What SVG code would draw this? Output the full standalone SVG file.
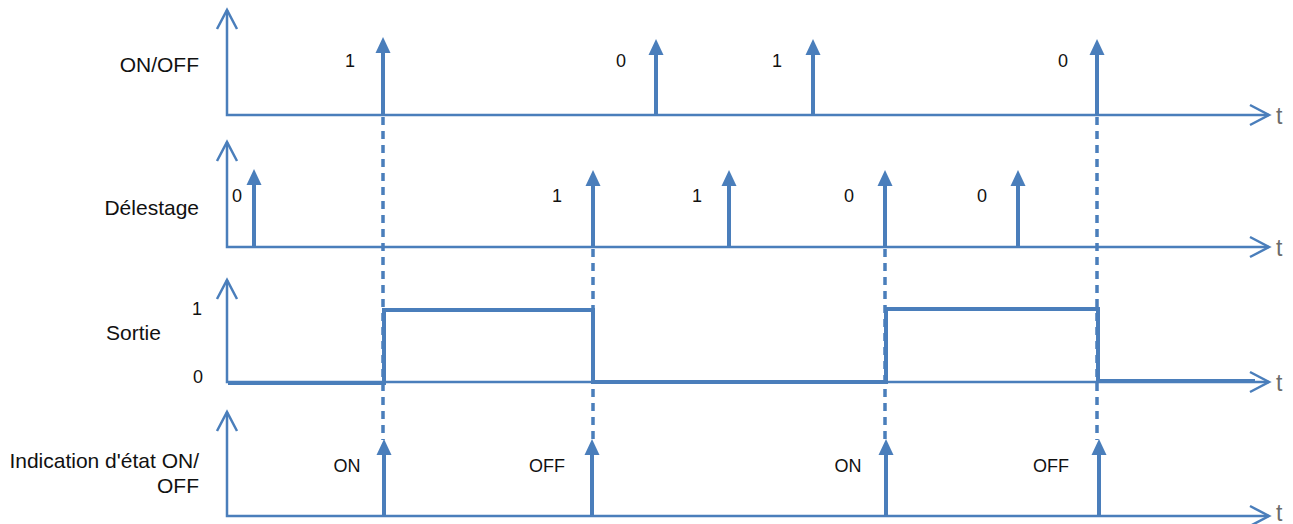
<svg xmlns="http://www.w3.org/2000/svg" width="1293" height="524" viewBox="0 0 1293 524">
<style>
.axis{fill:none;stroke:#4a7ebb;stroke-width:2.5;marker-start:url(#open);marker-end:url(#open)}
.imp{stroke:#4a7ebb;stroke-width:4;marker-end:url(#solid)}
.dash{stroke:#4a7ebb;stroke-width:3.5;stroke-dasharray:8 6}
.sig{fill:none;stroke:#4a7ebb;stroke-width:4}
.lbl{font-family:"Liberation Sans",Arial,sans-serif;font-size:21px;fill:#111}
.val{font-family:"Liberation Sans",Arial,sans-serif;font-size:18px;fill:#111;text-anchor:middle}
.t{font-family:"Liberation Sans",Arial,sans-serif;font-size:23px;fill:#6b6b6b}
</style>
<defs>
<marker id="open" markerUnits="userSpaceOnUse" markerWidth="24" markerHeight="26" refX="20" refY="12" orient="auto-start-reverse" viewBox="0 0 24 26">
<path d="M1,2 L20,12 L1,22" fill="none" stroke="#4a7ebb" stroke-width="2.5"/>
</marker>
<marker id="solid" markerUnits="userSpaceOnUse" markerWidth="17" markerHeight="16" refX="2" refY="8" orient="auto" viewBox="0 0 17 16">
<path d="M0,0.5 L16,8 L0,15.5 Z" fill="#4a7ebb"/>
</marker>
</defs>
<g id="labels">
<text class="lbl" x="199" y="72" text-anchor="end">ON/OFF</text>
<text class="lbl" x="199" y="215" text-anchor="end">Délestage</text>
<text class="lbl" x="106" y="340">Sortie</text>
<text class="lbl" x="199" y="468" text-anchor="end">Indication d'état ON/</text>
<text class="lbl" x="199" y="493" text-anchor="end">OFF</text>
</g>
<g id="connectors">
<line class="dash" x1="383" y1="117" x2="383" y2="440"/>
<line class="dash" x1="593" y1="249" x2="593" y2="440"/>
<line class="dash" x1="885" y1="249" x2="885" y2="440"/>
<line class="dash" x1="1097" y1="117" x2="1097" y2="440"/>
</g>
<g id="panel-onoff">
<path class="axis" d="M227,10 L227,115 L1269,115"/>
<text class="t" x="1276" y="124">t</text>
<line class="imp" x1="383" y1="115" x2="383" y2="51"/>
<line class="imp" x1="656" y1="115" x2="656" y2="53"/>
<line class="imp" x1="813" y1="115" x2="813" y2="53"/>
<line class="imp" x1="1097" y1="115" x2="1097" y2="53"/>
<text class="val" x="350" y="67">1</text>
<text class="val" x="621" y="67">0</text>
<text class="val" x="777" y="67">1</text>
<text class="val" x="1063" y="67">0</text>
</g>
<g id="panel-delestage">
<path class="axis" d="M227,142 L227,247 L1269,247"/>
<text class="t" x="1276" y="256">t</text>
<line class="imp" x1="254" y1="247" x2="254" y2="183"/>
<line class="imp" x1="593" y1="247" x2="593" y2="184"/>
<line class="imp" x1="729" y1="247" x2="729" y2="184"/>
<line class="imp" x1="885" y1="247" x2="885" y2="184"/>
<line class="imp" x1="1018" y1="247" x2="1018" y2="184"/>
<text class="val" x="237" y="202">0</text>
<text class="val" x="557" y="202">1</text>
<text class="val" x="697" y="202">1</text>
<text class="val" x="849" y="202">0</text>
<text class="val" x="982" y="202">0</text>
</g>
<g id="panel-sortie">
<path class="axis" d="M227,280 L227,382 L1269,382"/>
<text class="t" x="1276" y="391">t</text>
<text class="val" x="197" y="315">1</text>
<text class="val" x="198" y="383">0</text>
<path class="sig" d="M228,383 L384,383 L384,310 L593,310 L593,382 L886,382 L886,309 L1098,309 L1098,381 L1255,381"/>
</g>
<g id="panel-indication">
<path class="axis" d="M227,412 L227,516 L1269,516"/>
<text class="t" x="1276" y="521">t</text>
<line class="imp" x1="384" y1="516" x2="384" y2="453"/>
<line class="imp" x1="592" y1="516" x2="592" y2="453"/>
<line class="imp" x1="886" y1="516" x2="886" y2="453"/>
<line class="imp" x1="1099" y1="516" x2="1099" y2="453"/>
<text class="val" x="347" y="472">ON</text>
<text class="val" x="547" y="472">OFF</text>
<text class="val" x="848" y="472">ON</text>
<text class="val" x="1051" y="472">OFF</text>
</g>
</svg>
